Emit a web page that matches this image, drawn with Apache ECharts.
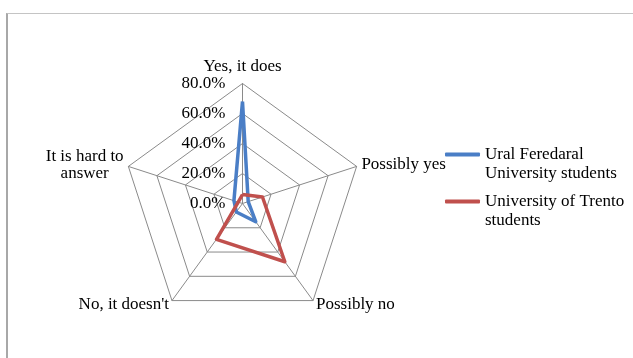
<!DOCTYPE html>
<html>
<head>
<meta charset="utf-8">
<script src="https://cdn.jsdelivr.net/npm/echarts@6/dist/echarts.min.js"></script>
<style>
  html, body { margin: 0; padding: 0; background: #fff; }
  #frame { position: absolute; left: 6px; top: 13px; width: 700px; height: 400px;
           border-left: 2px solid #a8a8a8; border-top: 1px solid #c4c4c4; }
  #chart { position: absolute; left: 0; top: 0; width: 633px; height: 358px; }
</style>
</head>
<body>
<div id="frame"></div>
<div id="chart"></div>
<script>
// Categories in clockwise order starting from the top
const categories = ["Yes, it does", "Possibly yes", "Possibly no", "No, it doesn't", "It is hard to\nanswer"];
const seriesNames = ["Ural Feredaral\nUniversity students", "University of Trento\nstudents"];
const uralValues = [68, 4, 15, 7, 6];
const trentoValues = [6, 14, 48, 29.5, 3];
const tickValues = [0, 20, 40, 60, 80];

// ECharts places radar indicators counter-clockwise; reorder
const order = [0, 4, 3, 2, 1];
const reorder = arr => order.map(i => arr[i]);

const FONT = "'Liberation Serif', 'Times New Roman', serif";
const chart = echarts.init(document.getElementById('chart'), null, { renderer: 'canvas' });

const indicators = reorder(categories).map((name, i) => {
  const o = { name: name, min: tickValues[0], max: tickValues[tickValues.length - 1] };
  if (i === 0) o.axisLabel = { show: true };
  return o;
});

chart.setOption({
  animation: false,
  backgroundColor: 'transparent',
  legend: {
    orient: 'vertical',
    left: 445,
    top: 126,
    padding: 0,
    itemGap: -10,
    itemWidth: 35,
    itemHeight: 4,
    icon: 'roundRect',
    formatter: name => '\n' + name,
    textStyle: { fontFamily: FONT, fontSize: 17, color: '#000', lineHeight: 19 },
    data: seriesNames
  },
  radar: {
    center: [242.5, 203.5],
    radius: 120,
    startAngle: 90,
    splitNumber: tickValues.length - 1,
    shape: 'polygon',
    indicator: indicators,
    axisName: {
      color: '#000',
      fontFamily: FONT,
      fontSize: 17,
      formatter: function (name) {
        return name.split('\n').map(s => '{c|' + s + '}').join('\n');
      },
      rich: { c: { align: 'center', fontFamily: FONT, fontSize: 17, lineHeight: 17, color: '#000' } }
    },
    nameGap: 5,
    axisLine: { lineStyle: { color: '#8a8a8a', width: 1 } },
    splitLine: { lineStyle: { color: '#8a8a8a', width: 1 } },
    splitArea: { show: false },
    axisTick: { show: false },
    axisLabel: {
      show: false,
      color: '#000',
      fontFamily: FONT,
      fontSize: 17,
      margin: 17,
      formatter: v => Number(v).toFixed(1) + '%'
    }
  },
  series: [{
    type: 'radar',
    symbol: 'none',
    data: [
      { name: seriesNames[0], value: reorder(uralValues),
        lineStyle: { color: '#4A7EC6', width: 3.5 }, itemStyle: { color: '#4A7EC6' } },
      { name: seriesNames[1], value: reorder(trentoValues),
        lineStyle: { color: '#C0504D', width: 3.5 }, itemStyle: { color: '#C0504D' } }
    ]
  }]
});
</script>
</body>
</html>
